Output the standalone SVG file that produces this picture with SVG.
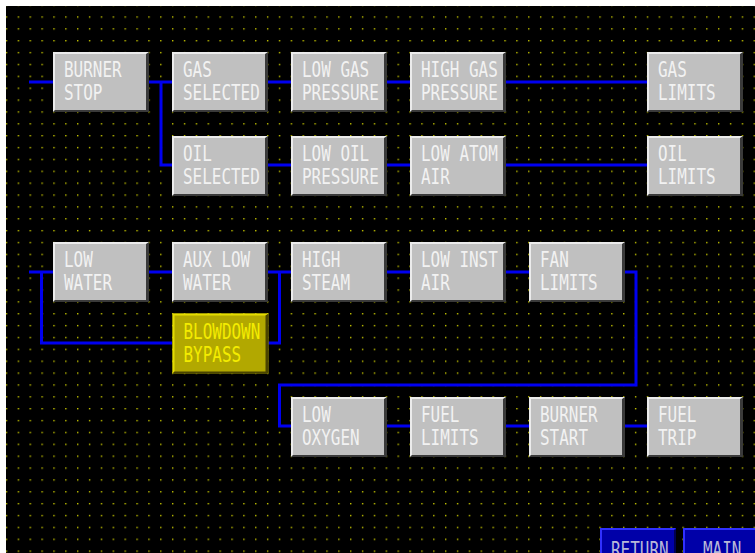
<svg xmlns="http://www.w3.org/2000/svg" xmlns:xlink="http://www.w3.org/1999/xlink" width="755" height="553" viewBox="0 0 755 553">
<style>
.t{font-family:"DejaVu Sans Mono","Liberation Mono",monospace;font-size:20.5px;fill:#f2f2f2;lengthAdjust:spacingAndGlyphs}
.ty{fill:#f4ec00}
.tb{fill:#b8b8d8}
.c{fill:none;stroke:#0000f0;stroke-width:3}
</style>
<defs>
<pattern id="dots" patternUnits="userSpaceOnUse" x="5.8" y="16.3" width="11.87" height="11.87">
<rect x="0" y="0" width="1.4" height="1.4" fill="#c4c400"/>
</pattern>
<g id="gbtn">
<rect x="0" y="0" width="96" height="60" fill="#c0c0c0"/>
<polygon points="0,0 96,0 94,2 2,2 2,58 0,60" fill="#ececec"/>
<polygon points="96,0 96,60 0,60 2,58 93,58 93,2" fill="#3a3a3a"/>
</g>
<g id="ybtn">
<rect x="0" y="0" width="96" height="60" fill="#b2a800"/>
<polygon points="0,0 96,0 94,2 2,2 2,58 0,60" fill="#e4dc00"/>
<polygon points="96,0 96,60 0,60 2,58 93,58 93,2" fill="#4a4400"/>
</g>
</defs>
<rect x="0" y="0" width="755" height="553" fill="#ffffff"/>
<rect x="6" y="6" width="749" height="547" fill="#000000"/>
<rect x="6" y="6" width="749" height="547" fill="url(#dots)"/>

<g id="connectors">
<path class="c" d="M29,82 H647"/>
<path class="c" d="M161,82 V165 H647"/>
<path class="c" d="M29,272 H529"/>
<path class="c" d="M41.5,272 V343 H172"/>
<path class="c" d="M279.5,272 V343 H268"/>
<path class="c" d="M624,272 H636 V385 H279.5 V426 H647"/>
</g>

<g id="burner-stop"><use xlink:href="#gbtn" x="53" y="52"/><text class="t" x="64" y="77" textLength="57.6" lengthAdjust="spacingAndGlyphs">BURNER</text><text class="t" x="64" y="100" textLength="38.4" lengthAdjust="spacingAndGlyphs">STOP</text></g>
<g id="gas-selected"><use xlink:href="#gbtn" x="172" y="52"/><text class="t" x="183" y="77" textLength="28.8" lengthAdjust="spacingAndGlyphs">GAS</text><text class="t" x="183" y="100" textLength="76.8" lengthAdjust="spacingAndGlyphs">SELECTED</text></g>
<g id="low-gas-pressure"><use xlink:href="#gbtn" x="291" y="52"/><text class="t" x="302" y="77" textLength="67.2" lengthAdjust="spacingAndGlyphs">LOW GAS</text><text class="t" x="302" y="100" textLength="76.8" lengthAdjust="spacingAndGlyphs">PRESSURE</text></g>
<g id="high-gas-pressure"><use xlink:href="#gbtn" x="410" y="52"/><text class="t" x="421" y="77" textLength="76.8" lengthAdjust="spacingAndGlyphs">HIGH GAS</text><text class="t" x="421" y="100" textLength="76.8" lengthAdjust="spacingAndGlyphs">PRESSURE</text></g>
<g id="gas-limits"><use xlink:href="#gbtn" x="647" y="52"/><text class="t" x="658" y="77" textLength="28.8" lengthAdjust="spacingAndGlyphs">GAS</text><text class="t" x="658" y="100" textLength="57.6" lengthAdjust="spacingAndGlyphs">LIMITS</text></g>

<g id="oil-selected"><use xlink:href="#gbtn" x="172" y="136"/><text class="t" x="183" y="161" textLength="28.8" lengthAdjust="spacingAndGlyphs">OIL</text><text class="t" x="183" y="184" textLength="76.8" lengthAdjust="spacingAndGlyphs">SELECTED</text></g>
<g id="low-oil-pressure"><use xlink:href="#gbtn" x="291" y="136"/><text class="t" x="302" y="161" textLength="67.2" lengthAdjust="spacingAndGlyphs">LOW OIL</text><text class="t" x="302" y="184" textLength="76.8" lengthAdjust="spacingAndGlyphs">PRESSURE</text></g>
<g id="low-atom-air"><use xlink:href="#gbtn" x="410" y="136"/><text class="t" x="421" y="161" textLength="76.8" lengthAdjust="spacingAndGlyphs">LOW ATOM</text><text class="t" x="421" y="184" textLength="28.8" lengthAdjust="spacingAndGlyphs">AIR</text></g>
<g id="oil-limits"><use xlink:href="#gbtn" x="647" y="136"/><text class="t" x="658" y="161" textLength="28.8" lengthAdjust="spacingAndGlyphs">OIL</text><text class="t" x="658" y="184" textLength="57.6" lengthAdjust="spacingAndGlyphs">LIMITS</text></g>

<g id="low-water"><use xlink:href="#gbtn" x="53" y="242"/><text class="t" x="64" y="267" textLength="28.8" lengthAdjust="spacingAndGlyphs">LOW</text><text class="t" x="64" y="290" textLength="48" lengthAdjust="spacingAndGlyphs">WATER</text></g>
<g id="aux-low-water"><use xlink:href="#gbtn" x="172" y="242"/><text class="t" x="183" y="267" textLength="67.2" lengthAdjust="spacingAndGlyphs">AUX LOW</text><text class="t" x="183" y="290" textLength="48" lengthAdjust="spacingAndGlyphs">WATER</text></g>
<g id="high-steam"><use xlink:href="#gbtn" x="291" y="242"/><text class="t" x="302" y="267" textLength="38.4" lengthAdjust="spacingAndGlyphs">HIGH</text><text class="t" x="302" y="290" textLength="48" lengthAdjust="spacingAndGlyphs">STEAM</text></g>
<g id="low-inst-air"><use xlink:href="#gbtn" x="410" y="242"/><text class="t" x="421" y="267" textLength="76.8" lengthAdjust="spacingAndGlyphs">LOW INST</text><text class="t" x="421" y="290" textLength="28.8" lengthAdjust="spacingAndGlyphs">AIR</text></g>
<g id="fan-limits"><use xlink:href="#gbtn" x="529" y="242"/><text class="t" x="540" y="267" textLength="28.8" lengthAdjust="spacingAndGlyphs">FAN</text><text class="t" x="540" y="290" textLength="57.6" lengthAdjust="spacingAndGlyphs">LIMITS</text></g>

<g id="blowdown-bypass"><use xlink:href="#ybtn" x="172.5" y="313.5"/><text class="t ty" x="183.5" y="338.5" textLength="76.8" lengthAdjust="spacingAndGlyphs">BLOWDOWN</text><text class="t ty" x="183.5" y="361.5" textLength="57.6" lengthAdjust="spacingAndGlyphs">BYPASS</text></g>

<g id="low-oxygen"><use xlink:href="#gbtn" x="291" y="397"/><text class="t" x="302" y="422" textLength="28.8" lengthAdjust="spacingAndGlyphs">LOW</text><text class="t" x="302" y="445" textLength="57.6" lengthAdjust="spacingAndGlyphs">OXYGEN</text></g>
<g id="fuel-limits"><use xlink:href="#gbtn" x="410" y="397"/><text class="t" x="421" y="422" textLength="38.4" lengthAdjust="spacingAndGlyphs">FUEL</text><text class="t" x="421" y="445" textLength="57.6" lengthAdjust="spacingAndGlyphs">LIMITS</text></g>
<g id="burner-start"><use xlink:href="#gbtn" x="529" y="397"/><text class="t" x="540" y="422" textLength="57.6" lengthAdjust="spacingAndGlyphs">BURNER</text><text class="t" x="540" y="445" textLength="48" lengthAdjust="spacingAndGlyphs">START</text></g>
<g id="fuel-trip"><use xlink:href="#gbtn" x="647" y="397"/><text class="t" x="658" y="422" textLength="38.4" lengthAdjust="spacingAndGlyphs">FUEL</text><text class="t" x="658" y="445" textLength="38.4" lengthAdjust="spacingAndGlyphs">TRIP</text></g>

<g id="return-btn">
<rect x="600" y="528" width="76" height="30" fill="#0000a8"/>
<polygon points="600,528 676,528 674,530 602,530 602,558 600,558" fill="#3030ff"/>
<rect x="674" y="530" width="2" height="28" fill="#000050"/>
<text class="t tb" x="611" y="557" textLength="57.6" lengthAdjust="spacingAndGlyphs">RETURN</text>
</g>
<g id="main-btn">
<rect x="683" y="528" width="76" height="30" fill="#0000a8"/>
<polygon points="683,528 759,528 757,530 685,530 685,558 683,558" fill="#3030ff"/>
<text class="t tb" x="703" y="557" textLength="38.4" lengthAdjust="spacingAndGlyphs">MAIN</text>
</g>
</svg>
